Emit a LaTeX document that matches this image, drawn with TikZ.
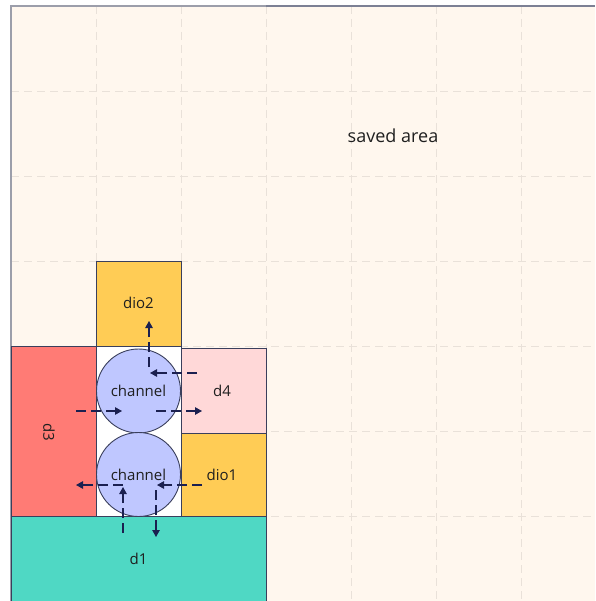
\documentclass[tikz,border=0pt]{standalone}
\usepackage{fontspec}
\setmainfont{Open Sans}
\usetikzlibrary{arrows.meta}
\definecolor{paper}{HTML}{FFF7EE}
\definecolor{gridc}{HTML}{E9E1D9}
\definecolor{frame}{HTML}{9C9EAA}
\definecolor{framedark}{HTML}{7C8094}
\definecolor{edge}{HTML}{3A3F5C}
\definecolor{navy}{HTML}{1B2050}
\definecolor{teal}{HTML}{4FD8C4}
\definecolor{salmon}{HTML}{FF7B75}
\definecolor{amber}{HTML}{FFCC55}
\definecolor{blush}{HTML}{FFD8D8}
\definecolor{lilac}{HTML}{BFC7FF}
\tikzset{
  x=1pt, y=-1pt,
  block/.style={draw=edge, line width=0.9pt},
  lbl/.style={font=\fontsize{15}{17}\selectfont, text=black!88, inner sep=0pt},
  chan/.style={circle, draw=edge, line width=0.9pt, fill=lilac, minimum size=84pt, inner sep=0pt,
               font=\fontsize{15}{17}\selectfont, text=black!88},
  flow/.style={draw=navy, line width=1.2pt, dash pattern=on 10pt off 5pt,
               -{Triangle[length=7pt,width=7.5pt]}},
  gridline/.style={draw=gridc, line width=0.8pt, dash pattern=on 8pt off 5pt}
}
\begin{document}
\begin{tikzpicture}
\useasboundingbox (0,0) rectangle (595,601);
\fill[white] (0,0) rectangle (595,601);
% canvas and its dashed grid
\fill[paper] (11,6) rectangle (595,601);
\foreach \gx in {96,181,266,351,436,521} \draw[gridline] (\gx,6) -- (\gx,601);
\foreach \gy in {91,176,261,346,431,516} \draw[gridline] (11,\gy) -- (595,\gy);
\draw[frame, line width=1.5pt] (11,601) -- (11,6) -- (266,6);
\draw[framedark, line width=1.5pt] (266,6) -- (595,6);

% blocks
\fill[white] (96,346) rectangle (181,516);
\draw[block] (96,346) rectangle (181,516);
\draw[block, fill=amber] (96,261) rectangle (181,346);
\draw[block, fill=salmon] (11,346) rectangle (96,516);
\draw[block, fill=blush] (181,348) rectangle (266,433);
\draw[block, fill=amber] (181,433) rectangle (266,518);
\draw[block, fill=teal] (11,516) rectangle (266,610);

\node[lbl] (dio2) at (138.5,303) {dio2};
\node[lbl, rotate=-90] (d3) at (49,432) {d3};
\node[lbl] (d4) at (222,391) {d4};
\node[lbl] (dio1) at (222,475) {dio1};
\node[lbl] (d1) at (138.5,559) {d1};
\node[lbl, font=\fontsize{18}{20}\selectfont] (saved) at (393,136) {saved area};

\node[chan] (ch1) at (138.5,391) {channel};
\node[chan] (ch2) at (138.5,474.5) {channel};

% flow end points
\coordinate (c1up) at (149,367);   \coordinate (dio2in) at (149,321);
\coordinate (d4out) at (197,373);  \coordinate (c1in) at (150,373);
\coordinate (d3out) at (76,411);   \coordinate (c1w) at (122,411);
\coordinate (c1e) at (156,411);    \coordinate (d4in) at (202,411);
\coordinate (c2w) at (123,485);    \coordinate (d3in) at (76,485);
\coordinate (dio1out) at (202,485);\coordinate (c2e) at (157,485);
\coordinate (d1out) at (123,533);  \coordinate (c2s) at (123,487);
\coordinate (c2d) at (156,490);    \coordinate (d1in) at (156,537);

\draw[flow] (c1up) -- (dio2in);
\draw[flow] (d4out) -- (c1in);
\draw[flow] (d3out) -- (c1w);
\draw[flow] (c1e) -- (d4in);
\draw[flow] (c2w) -- (d3in);
\draw[flow] (dio1out) -- (c2e);
\draw[flow] (d1out) -- (c2s);
\draw[flow] (c2d) -- (d1in);
\end{tikzpicture}
\end{document}
